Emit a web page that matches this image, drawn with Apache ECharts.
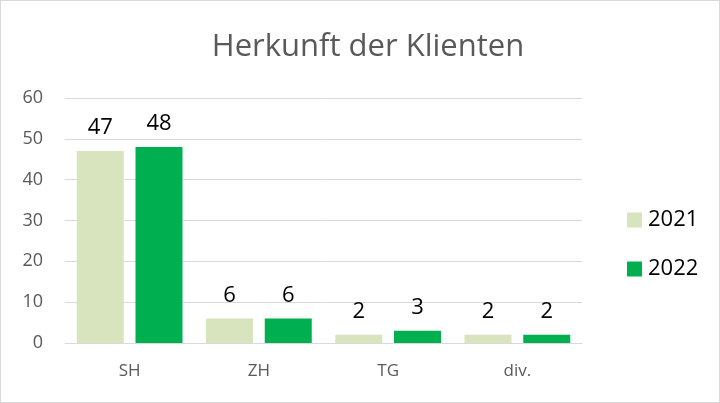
<!DOCTYPE html>
<html>
<head>
<meta charset="utf-8">
<script src="https://cdn.jsdelivr.net/npm/echarts@6/dist/echarts.min.js"></script>
<style>
  html, body { margin: 0; padding: 0; background: #fff; }
  #chart { width: 720px; height: 403px; box-sizing: border-box; border: 1px solid #d9d9d9; }
</style>
</head>
<body>
<div id="chart"></div>
<script>
const categories = ['SH', 'ZH', 'TG', 'div.']
const values2021 = [47, 6, 2, 2]
const values2022 = [48, 6, 3, 2]

const chart = echarts.init(document.getElementById('chart'))

const labelStyle = {
  show: true,
  position: 'top',
  color: '#000',
  fontSize: 22,
  fontFamily: '"Open Sans", sans-serif',
  distance: 12
}

chart.setOption({
  animation: false,
  title: {
    text: 'Herkunft der Klienten',
    left: 362,
    textAlign: 'center',
    top: 26,
    textStyle: { color: '#595959', fontSize: 31, fontWeight: 'normal', fontFamily: '"Open Sans", sans-serif' }
  },
  legend: {
    orient: 'vertical',
    left: 621,
    top: 203,
    itemWidth: 15,
    itemHeight: 15,
    itemGap: 27,
    icon: 'rect',
    textStyle: { color: '#000', fontSize: 22, fontFamily: '"Open Sans", sans-serif', padding: [0, 0, 0, 1] },
    data: ['2021', '2022']
  },
  grid: { left: 64, right: 137, top: 97, bottom: 59, containLabel: false },
  xAxis: {
    type: 'category',
    data: categories,
    axisLine: { lineStyle: { color: '#d9d9d9' } },
    axisTick: { show: false },
    axisLabel: { color: '#595959', fontSize: 17, margin: 20, fontFamily: '"Open Sans", sans-serif' }
  },
  yAxis: {
    type: 'value',
    min: 0,
    max: 60,
    interval: 10,
    axisLine: { show: false },
    axisTick: { show: false },
    axisLabel: { color: '#595959', fontSize: 18, margin: 22, fontFamily: '"Open Sans", sans-serif' },
    splitLine: { lineStyle: { color: '#d9d9d9', width: 1 } }
  },
  series: [
    {
      name: '2021',
      type: 'bar',
      data: values2021,
      barWidth: 47,
      barGap: '25%',
      itemStyle: { color: '#d7e4bd' },
      label: labelStyle
    },
    {
      name: '2022',
      type: 'bar',
      data: values2022,
      barWidth: 47,
      itemStyle: { color: '#00b050' },
      label: labelStyle
    }
  ]
})
</script>
</body>
</html>
